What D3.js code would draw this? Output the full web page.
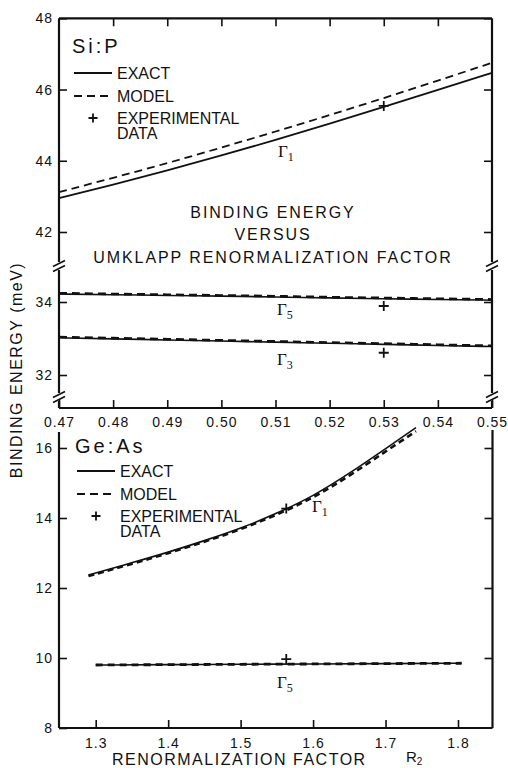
<!DOCTYPE html>
<html>
<head>
<meta charset="utf-8">
<script src="https://cdn.jsdelivr.net/npm/d3@7"></script>
<style>
  body { margin: 0; background: #fff; }
  svg text { font-family: "Liberation Sans", Arial, sans-serif; fill: #111; }
  .tick line { stroke: #111; stroke-width: 1.6; }
  .tick text { font-size: 14px; letter-spacing: 1px; }
  .greek { font-family: "Liberation Serif", "DejaVu Serif", serif; }
</style>
</head>
<body>
<script>
// ---- Si:P panel data (R vs binding energy, meV) ----
var siR = [0.47, 0.48, 0.49, 0.50, 0.51, 0.52, 0.53, 0.54, 0.55];
var siG1Exact = [42.95, 43.33, 43.73, 44.15, 44.58, 45.04, 45.51, 45.99, 46.47];
var siG1Model = [43.12, 43.52, 43.93, 44.37, 44.82, 45.28, 45.76, 46.25, 46.75];
var siG5Exact = [34.22, 34.20, 34.18, 34.16, 34.14, 34.11, 34.09, 34.07, 34.05];
var siG5Model = [34.24, 34.22, 34.20, 34.18, 34.16, 34.13, 34.11, 34.09, 34.07];
var siG3Exact = [33.02, 32.99, 32.96, 32.93, 32.90, 32.87, 32.84, 32.81, 32.78];
var siG3Model = [33.04, 33.01, 32.98, 32.95, 32.92, 32.89, 32.86, 32.83, 32.80];
var siExpR = [0.53, 0.53, 0.53];
var siExpE = [45.54, 33.89, 32.61];

var siTicksX = [0.47, 0.48, 0.49, 0.50, 0.51, 0.52, 0.53, 0.54, 0.55];
var siTicksHi = [42, 44, 46, 48];
var siTicksLo = [32, 34];

// ---- Ge:As panel data ----
var geG1R = [1.29, 1.35, 1.40, 1.45, 1.50, 1.55, 1.60, 1.65, 1.70, 1.742];
var geG1Exact = [12.37, 12.72, 13.02, 13.35, 13.70, 14.13, 14.62, 15.27, 15.98, 16.58];
var geG1Model = [12.34, 12.69, 12.99, 13.32, 13.67, 14.09, 14.57, 15.20, 15.90, 16.48];
var geG5R = [1.30, 1.40, 1.50, 1.60, 1.70, 1.805];
var geG5Exact = [9.80, 9.81, 9.82, 9.83, 9.84, 9.85];
var geG5Model = [9.80, 9.81, 9.82, 9.83, 9.84, 9.85];
var geExpR = [1.563, 1.563];
var geExpE = [14.27, 9.97];

var geTicksX = [1.3, 1.4, 1.5, 1.6, 1.7, 1.8];
var geTicksY = [8, 10, 12, 14, 16];

var svg = d3.select("body").append("svg")
  .attr("width", 508)
  .attr("height", 768);

// scales (upper Si panel has a broken y axis -> two scales)
var xTop = d3.scaleLinear().domain([0.47, 0.55]).range([59, 492]);
var yHi = d3.scaleLinear().domain([42, 48]).range([232, 18.3]);
var yLo = d3.scaleLinear().domain([32, 34]).range([375, 302]);
var xBot = d3.scaleLinear().domain([1.3, 1.8]).range([95.7, 458]);
var yBot = d3.scaleLinear().domain([8, 16]).range([728, 448]);

var topY = yHi(48), botY = 408, left = 59, right = 492;
var brkA = 266, brkB = 397;

function addAxis(axis, tx, ty) {
  var g = svg.append("g")
    .attr("transform", `translate(${tx}, ${ty})`)
    .call(axis);
  g.select(".domain").remove();
  return g;
}

var intFmt = d3.format("d");

// ---- axes, Si panel ----
addAxis(d3.axisBottom(xTop).tickValues(siTicksX).tickSize(-8).tickPadding(9)
  .tickFormat(d3.format(".2f")), 0, botY);
addAxis(d3.axisTop(xTop).tickValues(siTicksX.slice(1, -1)).tickSize(-8).tickFormat(""), 0, topY);
addAxis(d3.axisLeft(yHi).tickValues(siTicksHi).tickSize(-8).tickPadding(6).tickFormat(intFmt), left, 0);
addAxis(d3.axisLeft(yLo).tickValues(siTicksLo).tickSize(-8).tickPadding(6).tickFormat(intFmt), left, 0);
addAxis(d3.axisRight(yHi).tickValues(siTicksHi).tickSize(-8).tickFormat(""), right, 0);
addAxis(d3.axisRight(yLo).tickValues(siTicksLo).tickSize(-8).tickFormat(""), right, 0);

// ---- axes, Ge panel ----
addAxis(d3.axisLeft(yBot).tickValues(geTicksY).tickSize(-8).tickPadding(6).tickFormat(intFmt), left, 0);
addAxis(d3.axisRight(yBot).tickValues(geTicksY.slice(1)).tickSize(-8).tickFormat(""), right + 0.5, 0);
addAxis(d3.axisBottom(xBot).tickValues(geTicksX).tickSize(-8).tickPadding(10)
  .tickFormat(d3.format(".1f")), 0, 728);

// ---- frames ----
var frame = svg.append("g").attr("stroke", "#111").attr("stroke-width", 2.2).attr("fill", "none");
var segs = [
  [left, topY, right, topY], [left, botY, right, botY],
  [left, topY, left, brkA - 4], [left, brkA + 4, left, brkB - 4], [left, brkB + 4, left, botY],
  [right, topY, right, brkA - 4], [right, brkA + 4, right, brkB - 4], [right, brkB + 4, right, botY],
  [left, 432, left, 728], [left, 728, right + 0.5, 728], [right + 0.5, 430, right + 0.5, 728]
];
frame.selectAll("line.seg").data(segs).enter().append("line")
  .attr("x1", d => d[0]).attr("y1", d => d[1])
  .attr("x2", d => d[2]).attr("y2", d => d[3]);

// break marks  //
[[left, brkA], [left, brkB], [right, brkA], [right, brkB]].forEach(function (b) {
  [-2.5, 2.5].forEach(function (o) {
    frame.append("line")
      .attr("stroke-width", 1.8)
      .attr("x1", b[0] - 6).attr("y1", b[1] + o + 3)
      .attr("x2", b[0] + 6).attr("y2", b[1] + o - 3);
  });
});

// ---- curves ----
function drawCurve(xs, ys, xScale, yScale, dashed, width) {
  var pts = xs.map((x, i) => [xScale(x), yScale(ys[i])]);
  svg.append("path")
    .datum(pts)
    .attr("fill", "none")
    .attr("stroke", "#111")
    .attr("stroke-width", width)
    .attr("stroke-dasharray", dashed ? dashed : null)
    .attr("d", d3.line().curve(d3.curveBasis));
}

drawCurve(siR, siG1Exact, xTop, yHi, null, 1.8);
drawCurve(siR, siG1Model, xTop, yHi, "8,5", 1.8);
drawCurve(siR, siG5Exact, xTop, yLo, null, 1.6);
drawCurve(siR, siG5Model, xTop, yLo, "8,5", 2.6);
drawCurve(siR, siG3Exact, xTop, yLo, null, 1.6);
drawCurve(siR, siG3Model, xTop, yLo, "8,5", 2.6);

drawCurve(geG1R, geG1Exact, xBot, yBot, null, 1.6);
drawCurve(geG1R, geG1Model, xBot, yBot, "6,4", 2.6);
drawCurve(geG5R, geG5Exact, xBot, yBot, null, 1.6);
drawCurve(geG5R, geG5Model, xBot, yBot, "7,5", 2.8);

// ---- experimental points (+) ----
function plus(x, y, s) {
  return `M${x - s},${y}H${x + s}M${x},${y - s}V${y + s}`;
}
svg.append("g").selectAll("path")
  .data(siExpR.map((r, i) => [xTop(r), siExpE[i] > 40 ? yHi(siExpE[i]) : yLo(siExpE[i])]))
  .enter().append("path")
  .attr("d", d => plus(d[0], d[1], 5))
  .attr("stroke", "#111").attr("stroke-width", 1.8);
svg.append("g").selectAll("path")
  .data(geExpR.map((r, i) => [xBot(r), yBot(geExpE[i])]))
  .enter().append("path")
  .attr("d", d => plus(d[0], d[1], 5))
  .attr("stroke", "#111").attr("stroke-width", 1.8);

// ---- legends ----
function legend(x0, yTitle, title, y0) {
  svg.append("text").attr("x", x0).attr("y", yTitle)
    .attr("font-size", 20).attr("letter-spacing", 3).text(title);
  svg.append("line").attr("x1", x0 + 2).attr("x2", x0 + 40).attr("y1", y0).attr("y2", y0)
    .attr("stroke", "#111").attr("stroke-width", 1.8);
  svg.append("line").attr("x1", x0 + 2).attr("x2", x0 + 40).attr("y1", y0 + 23).attr("y2", y0 + 23)
    .attr("stroke", "#111").attr("stroke-width", 1.8).attr("stroke-dasharray", "8,5");
  svg.append("path").attr("d", plus(x0 + 21, y0 + 45, 4.5))
    .attr("stroke", "#111").attr("stroke-width", 1.8);
  var lab = [["EXACT", y0 + 6], ["MODEL", y0 + 29], ["EXPERIMENTAL", y0 + 50.5], ["DATA", y0 + 66]];
  lab.forEach(function (l) {
    svg.append("text").attr("x", x0 + 45).attr("y", l[1])
      .attr("font-size", 16).text(l[0]);
  });
}
legend(72, 53, "Si:P", 73);
legend(75, 453, "Ge:As", 471);

// ---- panel caption ----
var cap = ["BINDING ENERGY", "VERSUS", "UMKLAPP RENORMALIZATION FACTOR"];
var capY = [218, 240, 263];
cap.forEach(function (t, i) {
  svg.append("text").attr("x", 273).attr("y", capY[i])
    .attr("text-anchor", "middle").attr("font-size", 16)
    .attr("letter-spacing", 1.9).text(t);
});

// ---- Gamma labels ----
function gamma(x, y, sub) {
  var t = svg.append("text").attr("class", "greek").attr("x", x).attr("y", y)
    .attr("font-size", 17).text("Γ");
  t.append("tspan").attr("font-size", 12).attr("dy", 4).text(sub);
}
gamma(278, 157, "1");
gamma(277, 315, "5");
gamma(277, 365, "3");
gamma(312, 512, "1");
gamma(277, 688, "5");

// ---- axis titles ----
svg.append("text")
  .attr("transform", "translate(21.5, 370) rotate(-90)")
  .attr("text-anchor", "middle").attr("font-size", 16)
  .attr("letter-spacing", 1.5)
  .text("BINDING ENERGY (meV)");

svg.append("text").attr("x", 112).attr("y", 765)
  .attr("font-size", 16).attr("letter-spacing", 1.5)
  .text("RENORMALIZATION FACTOR");
var r2 = svg.append("text").attr("x", 406).attr("y", 762).attr("font-size", 15).text("R");
r2.append("tspan").attr("font-size", 10).attr("dy", 2.5).text("2");
</script>
</body>
</html>
